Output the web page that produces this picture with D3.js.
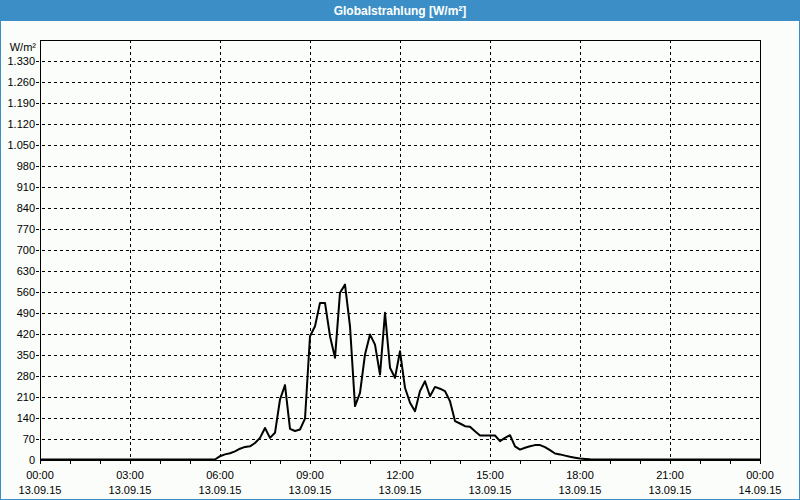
<!DOCTYPE html>
<html><head><meta charset="utf-8">
<script src="https://cdn.jsdelivr.net/npm/d3@7"></script>
<style>
html,body{margin:0;padding:0;background:#fbfdfb;}
svg{display:block;}
text{font-family:"Liberation Sans",Arial,sans-serif;font-size:11px;fill:#000;}
</style></head>
<body>
<script>
// ---- data ----
const title = "Globalstrahlung [W/m²]";
const unitLabel = "W/m²";
const times = ["00:00","05:50",
 "06:00","06:10","06:20","06:30","06:40","06:50",
 "07:00","07:10","07:20","07:30","07:40","07:50",
 "08:00","08:10","08:20","08:30","08:40","08:50",
 "09:00","09:10","09:20","09:30","09:40","09:50",
 "10:00","10:10","10:20","10:30","10:40","10:50",
 "11:00","11:10","11:20","11:30","11:40","11:50",
 "12:00","12:10","12:20","12:30","12:40","12:50",
 "13:00","13:10","13:20","13:30","13:40","13:50",
 "14:00","14:10","14:20","14:30","14:40","14:50",
 "15:00","15:10","15:20","15:30","15:40","15:50",
 "16:00","16:10","16:20","16:30","16:40","16:50",
 "17:00","17:10","17:20","17:30","17:40","17:50",
 "18:00","18:10","18:20","24:00"];
const values = [0,0,
 11,17,21,27,36,42,
 44,55,72,105,72,89,
 200,248,102,95,100,136,
 411,444,522,522,411,339,
 556,583,444,178,222,350,
 417,383,283,489,306,272,
 361,239,189,161,228,261,
 211,242,236,228,194,128,
 120,111,109,94,80,80,
 80,80,61,72,81,44,
 33,39,44,48,48,41,
 31,20,17,13,9,6,
 3,2,1,0];
const yTicks = [0,70,140,210,280,350,420,490,560,630,700,770,840,910,980,1050,1120,1190,1260,1330];
const xTickTimes = ["00:00","03:00","06:00","09:00","12:00","15:00","18:00","21:00","00:00"];
const xTickDates = ["13.09.15","13.09.15","13.09.15","13.09.15","13.09.15","13.09.15","13.09.15","13.09.15","14.09.15"];

// ---- layout ----
const W = 800, H = 500;
const L = 40, R = 760, T = 40, B = 460;
const toMin = s => { const [h,m] = s.split(":").map(Number); return h*60+m; };

const svg = d3.select("body").append("svg").attr("width", W).attr("height", H);
svg.append("rect").attr("width", W).attr("height", H).attr("fill", "#fbfdfb");

// title bar
svg.append("rect").attr("x",0).attr("y",0).attr("width",W).attr("height",21).attr("fill","#3c8fc6");
svg.append("text").attr("x",W/2).attr("y",15).attr("text-anchor","middle")
  .style("fill","#fff").style("font-weight","bold").style("font-size","12px").text(title);
// outer border
svg.append("rect").attr("x",0.5).attr("y",0.5).attr("width",W-1).attr("height",H-1)
  .attr("fill","none").attr("stroke","#3c8fc6").attr("stroke-width",1);

const x = d3.scaleLinear().domain([0, 1440]).range([L, R]);
const y = d3.scaleLinear().domain([0, 1400]).range([B, T]);
const loc = d3.formatLocale({decimal:",", thousands:".", grouping:[3], currency:["","€"]});
const fmt = loc.format(",d");

// grid
const g = svg.append("g").attr("shape-rendering","crispEdges");
g.selectAll(".hg").data(yTicks.filter(d=>d>0)).enter().append("line")
  .attr("x1",L-4).attr("x2",R).attr("y1",d=>Math.round(y(d))+0.5).attr("y2",d=>Math.round(y(d))+0.5)
  .attr("stroke","#000").attr("stroke-dasharray","3,3");
const xTickMins = xTickTimes.map((t,i)=> i===xTickTimes.length-1 ? 1440 : toMin(t));
g.selectAll(".vg").data(xTickMins.slice(1,-1)).enter().append("line")
  .attr("x1",d=>Math.round(x(d))+0.5).attr("x2",d=>Math.round(x(d))+0.5).attr("y1",T).attr("y2",B)
  .attr("stroke","#000").attr("stroke-dasharray","3,3");

// frame
g.append("line").attr("x1",L+0.5).attr("x2",L+0.5).attr("y1",T).attr("y2",B+1).attr("stroke","#000");
g.append("line").attr("x1",L).attr("x2",R+1).attr("y1",T+0.5).attr("y2",T+0.5).attr("stroke","#000");
g.append("line").attr("x1",R+0.5).attr("x2",R+0.5).attr("y1",T).attr("y2",B+1).attr("stroke","#000");
g.append("line").attr("x1",L).attr("x2",R+1).attr("y1",B+0.5).attr("y2",B+0.5).attr("stroke","#000");

// hourly ticks
g.selectAll(".mt").data(d3.range(0,1441,60)).enter().append("line")
  .attr("x1",d=>Math.round(x(d))+0.5).attr("x2",d=>Math.round(x(d))+0.5).attr("y1",B).attr("y2",B+4)
  .attr("stroke","#000");

// y labels
svg.selectAll(".yl").data(yTicks).enter().append("text")
  .attr("x",35).attr("y",d=>y(d)+4).attr("text-anchor","end").text(d=>fmt(d));
svg.append("text").attr("x",36).attr("y",51).attr("text-anchor","end").text(unitLabel);

// x labels
xTickMins.forEach((m,i)=>{
  svg.append("text").attr("x",x(m)).attr("y",479).attr("text-anchor","middle").text(xTickTimes[i]);
  svg.append("text").attr("x",x(m)).attr("y",494).attr("text-anchor","middle").text(xTickDates[i]);
});

// data line
const pts = times.map((t,i)=>({m:toMin(t), v:values[i]}));
svg.append("path").datum(pts)
  .attr("d", d3.line().x(d=>x(d.m)).y(d=>y(d.v)-0.5))
  .attr("fill","none").attr("stroke","#000").attr("stroke-width",2).attr("stroke-linejoin","round");
</script>
</body></html>
